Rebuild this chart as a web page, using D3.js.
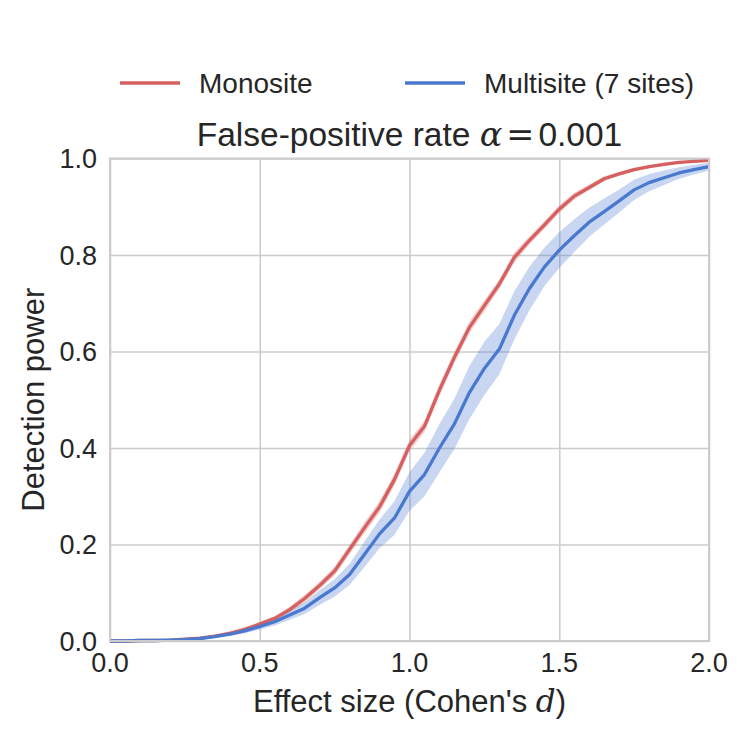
<!DOCTYPE html>
<html>
<head>
<meta charset="utf-8">
<script src="https://cdn.jsdelivr.net/npm/d3@7"></script>
<style>
  body { margin: 0; background: #fff; }
  text { font-family: "Liberation Sans", Arial, sans-serif; fill: #262626; }
</style>
</head>
<body>
<svg id="chart" width="750" height="750"></svg>
<script>
/* Data (effect size step 0.05) */
const effectSizes = d3.range(0, 41).map(i => i * 0.05);
const monoPower = [
  0.000, 0.000, 0.001, 0.001, 0.002, 0.004, 0.006, 0.010, 0.016, 0.024,
  0.035, 0.047, 0.065, 0.088, 0.115, 0.145, 0.190, 0.235, 0.278, 0.335,
  0.405, 0.445, 0.520, 0.588, 0.650, 0.695, 0.740, 0.795, 0.830, 0.862,
  0.895, 0.922, 0.940, 0.958, 0.968, 0.977, 0.983, 0.988, 0.992, 0.994,
  0.996
];
const monoSpread = [
  0.001, 0.001, 0.001, 0.001, 0.001, 0.001, 0.002, 0.003, 0.004, 0.004,
  0.005, 0.005, 0.006, 0.008, 0.008, 0.009, 0.010, 0.011, 0.012, 0.012,
  0.012, 0.012, 0.012, 0.012, 0.012, 0.011, 0.010, 0.010, 0.009, 0.008,
  0.008, 0.007, 0.006, 0.005, 0.004, 0.004, 0.003, 0.003, 0.002, 0.002,
  0.002
];
const multiPower = [
  0.000, 0.000, 0.001, 0.001, 0.002, 0.003, 0.005, 0.009, 0.014, 0.021,
  0.030, 0.040, 0.054, 0.068, 0.090, 0.110, 0.138, 0.180, 0.222, 0.255,
  0.310, 0.345, 0.400, 0.450, 0.515, 0.565, 0.605, 0.675, 0.730, 0.775,
  0.810, 0.840, 0.868, 0.890, 0.912, 0.935, 0.950, 0.960, 0.970, 0.977,
  0.983
];
const multiSpread = [
  0.001, 0.001, 0.001, 0.001, 0.001, 0.001, 0.001, 0.002, 0.003, 0.005,
  0.006, 0.008, 0.010, 0.012, 0.015, 0.018, 0.022, 0.026, 0.030, 0.035,
  0.040, 0.045, 0.050, 0.052, 0.055, 0.055, 0.052, 0.050, 0.045, 0.040,
  0.037, 0.034, 0.030, 0.027, 0.024, 0.021, 0.018, 0.015, 0.012, 0.010,
  0.008
];
const seriesNames = ['Monosite', 'Multisite (7 sites)'];
const seriesColors = ['#d65f5f', '#4878cf'];
const xTicks = [0.0, 0.5, 1.0, 1.5, 2.0];
const yTicks = [0.0, 0.2, 0.4, 0.6, 0.8, 1.0];

/* Layout */
const plotLeft = 110, plotRight = 709, plotTop = 158.5, plotBottom = 641;

const svg = d3.select('#chart');
const x = d3.scaleLinear().domain([0, 2]).range([plotLeft, plotRight]);
const y = d3.scaleLinear().domain([0, 1]).range([plotBottom, plotTop]);

function makeSeries(power, spread) {
  return effectSizes.map((d, i) => ({
    d: d,
    p: power[i],
    lo: Math.max(0, power[i] - spread[i]),
    hi: Math.min(1, power[i] + spread[i])
  }));
}

const series = [
  makeSeries(monoPower, monoSpread),
  makeSeries(multiPower, multiSpread)
];

// grid
svg.append('g')
  .attr('transform', `translate(0,${plotBottom})`)
  .call(d3.axisBottom(x).tickValues(xTicks).tickSize(-(plotBottom - plotTop)).tickFormat(''))
  .call(g => g.select('.domain').remove())
  .selectAll('line').attr('stroke', '#cccccc').attr('stroke-width', 1.6);
svg.append('g')
  .attr('transform', `translate(${plotLeft},0)`)
  .call(d3.axisLeft(y).tickValues(yTicks).tickSize(-(plotRight - plotLeft)).tickFormat(''))
  .call(g => g.select('.domain').remove())
  .selectAll('line').attr('stroke', '#cccccc').attr('stroke-width', 1.6);

// bands and lines
const area = d3.area().x(d => x(d.d)).y0(d => y(d.lo)).y1(d => y(d.hi));
const line = d3.line().x(d => x(d.d)).y(d => y(d.p));

const plot = svg.append('g');
plot.selectAll('path.band').data(series).enter().append('path')
  .attr('class', 'band')
  .attr('d', area)
  .attr('fill', (d, i) => seriesColors[i])
  .attr('fill-opacity', 0.3);
plot.selectAll('path.line').data(series).enter().append('path')
  .attr('class', 'line')
  .attr('d', line)
  .attr('fill', 'none')
  .attr('stroke', (d, i) => seriesColors[i])
  .attr('stroke-width', 3.3)
  .attr('stroke-linejoin', 'round');

// frame
svg.append('rect')
  .attr('x', plotLeft).attr('y', plotTop)
  .attr('width', plotRight - plotLeft).attr('height', plotBottom - plotTop)
  .attr('fill', 'none').attr('stroke', '#cccccc').attr('stroke-width', 2);

// tick labels
svg.selectAll('text.xt').data(xTicks).enter().append('text')
  .attr('class', 'xt')
  .attr('x', d => x(d)).attr('y', 672)
  .attr('text-anchor', 'middle')
  .style('font-size', '27px')
  .text(d => d.toFixed(1));
svg.selectAll('text.yt').data(yTicks).enter().append('text')
  .attr('class', 'yt')
  .attr('x', 97).attr('y', d => y(d) + 9.5)
  .attr('text-anchor', 'end')
  .style('font-size', '27px')
  .text(d => d.toFixed(1));

// axis labels
const xl = svg.append('text')
  .attr('x', (plotLeft + plotRight) / 2).attr('y', 712)
  .attr('text-anchor', 'middle')
  .style('font-size', '31px');
xl.append('tspan').text("Effect size (Cohen's ");
xl.append('tspan').text('d')
  .style('font-family', '"DejaVu Serif", serif').style('font-style', 'italic');
xl.append('tspan').text(')');

svg.append('text')
  .attr('transform', `translate(44,${(plotTop + plotBottom) / 2}) rotate(-90)`)
  .attr('text-anchor', 'middle')
  .style('font-size', '31px')
  .text('Detection power');

// title
const title = svg.append('text')
  .attr('x', (plotLeft + plotRight) / 2).attr('y', 146)
  .attr('text-anchor', 'middle')
  .style('font-size', '33.5px');
title.append('tspan').text('False-positive rate ');
title.append('tspan').text('α')
  .style('font-family', '"DejaVu Serif", serif').style('font-style', 'italic');
title.append('tspan').attr('dx', 4).text('=')
  .style('font-family', '"DejaVu Serif", serif');
title.append('tspan').attr('dx', 4).text('0.001');

// legend
const legendX = [120, 405];
const legend = svg.selectAll('g.legend').data(seriesNames).enter().append('g')
  .attr('class', 'legend')
  .attr('transform', (d, i) => `translate(${legendX[i]},83)`);
legend.append('line')
  .attr('x1', 0).attr('x2', 60)
  .attr('stroke', (d, i) => seriesColors[i])
  .attr('stroke-width', 3.3);
legend.append('text')
  .attr('x', 79).attr('y', 10)
  .style('font-size', '28px')
  .text(d => d);
</script>
</body>
</html>
